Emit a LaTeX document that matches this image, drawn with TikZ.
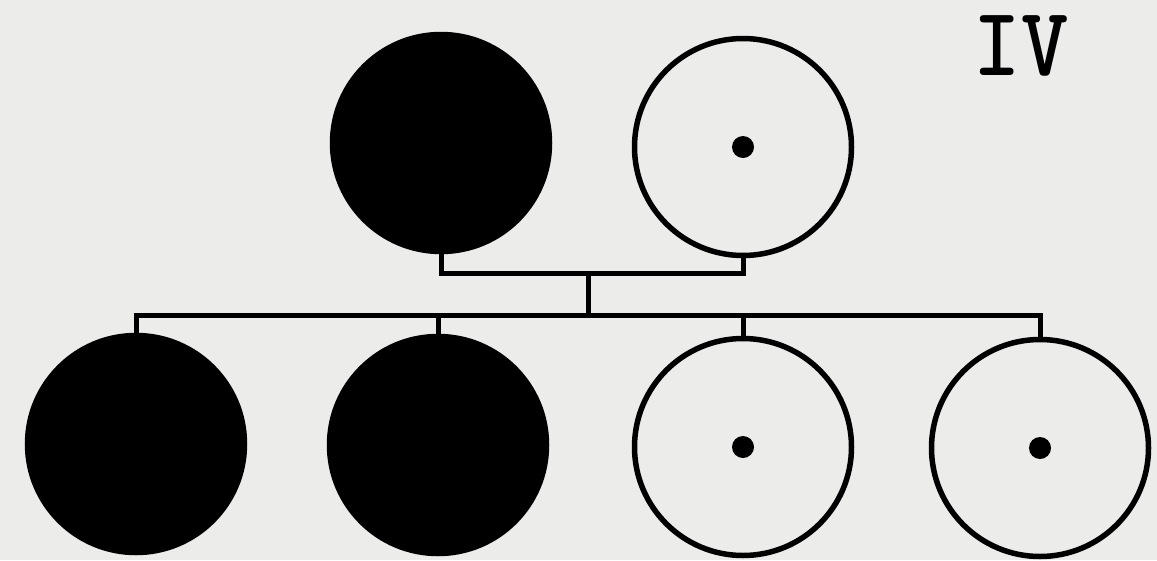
\documentclass[tikz,border=0pt]{standalone}
\usepackage{fontspec}
\definecolor{bgcol}{RGB}{236,236,234}
\begin{document}
\begin{tikzpicture}[x=1pt,y=-1pt,
  person/.style={circle,draw=black,line width=5.5pt,minimum size=217pt,inner sep=0pt},
  aff/.style={person,fill=black},
  carrier/.style={person,fill=bgcol},
  dotmark/.style={circle,fill=black,minimum size=22pt,inner sep=0pt},
  link/.style={line width=5pt,line join=miter}]
\fill[bgcol] (0,0) rectangle (1157,560);
\useasboundingbox (0,0) rectangle (1157,560);
% parents
\node[aff] (f) at (441,143) {};
\node[carrier] (m) at (743,147) {};
\node[dotmark] (md) at (743,147) {};
% children
\node[aff] (c1) at (136,444) {};
\node[aff] (c2) at (438,445) {};
\node[carrier] (c3) at (743,447) {};
\node[dotmark] (c3d) at (743,447) {};
\node[carrier] (c4) at (1040,448) {};
\node[dotmark] (c4d) at (1040,448) {};
% connectors
\coordinate (mid) at (588,273);
\coordinate (sib) at (588,315);
\draw[link] (f.south) |- (mid) -| (m.south);
\draw[link] (mid) -- (sib);
\draw[link] (c1.north) |- (sib) -| (c4.north);
\draw[link] (c2.north) -- (c2.north |- sib);
\draw[link] (c3.north) -- (c3.north |- sib);
% label
\node[font=\fontsize{98}{98}\selectfont\ttfamily\bfseries,anchor=base,inner sep=0pt,xscale=0.92] (lbl) at (1021,75) {IV};
\end{tikzpicture}
\end{document}
